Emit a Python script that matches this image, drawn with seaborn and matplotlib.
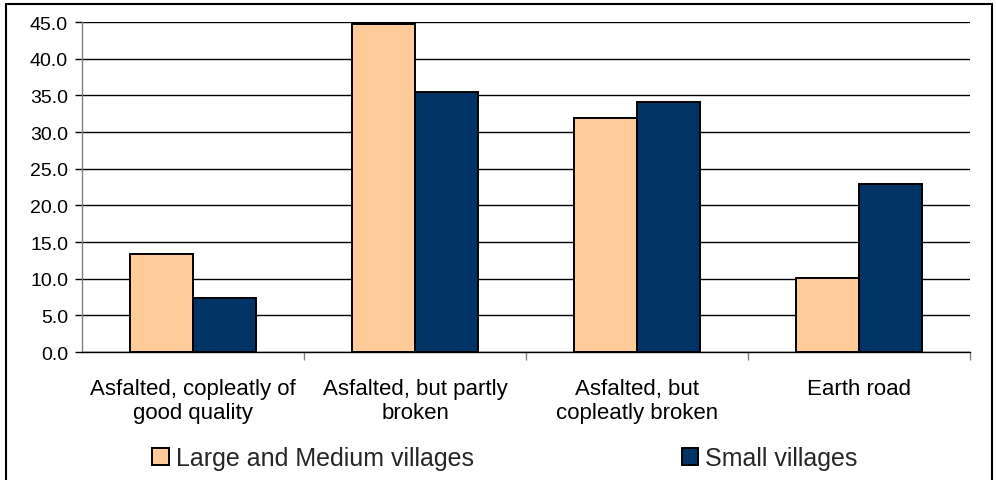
import matplotlib
matplotlib.use("Agg")
import matplotlib.pyplot as plt
from matplotlib.patches import Rectangle
from matplotlib.ticker import FormatStrFormatter, FixedLocator
import seaborn as sns
import pandas as pd

categories = [
    "Asfalted, copleatly of\ngood quality",
    "Asfalted, but partly\nbroken",
    "Asfalted, but\ncopleatly broken",
    "Earth road",
]
series_names = ["Large and Medium villages", "Small villages"]
large_medium = [13.4, 44.7, 31.9, 10.1]
small = [7.4, 35.4, 34.1, 22.9]
colors = ["#FFCC99", "#003366"]

df = pd.DataFrame({
    "category": categories * 2,
    "value": large_medium + small,
    "group": [series_names[0]] * 4 + [series_names[1]] * 4,
})

sns.set_theme(style="white")
plt.rcParams["font.family"] = ["Liberation Sans", "DejaVu Sans"]

fig = plt.figure(figsize=(9.96, 4.81), dpi=100)
ax = fig.add_axes([0.0823, 0.266, 0.8917, 0.686])

sns.barplot(data=df, x="category", y="value", hue="group", order=categories,
            hue_order=series_names, palette=colors, width=0.57, gap=0,
            edgecolor="black", linewidth=1.4, saturation=1, ax=ax,
            errorbar=None)

ax.set_xlim(-0.5, 3.5)
ax.set_ylim(0, 45)
ax.set_yticks(range(0, 46, 5))
ax.yaxis.set_major_formatter(FormatStrFormatter("%.1f"))
ax.grid(axis="y", color="black", linewidth=1.0)
ax.set_axisbelow(True)
ax.set_xlabel("")
ax.set_ylabel("")

for side in ("top", "right"):
    ax.spines[side].set_visible(False)
ax.spines["left"].set_color("#808080")
ax.spines["left"].set_linewidth(1.0)
ax.spines["bottom"].set_color("black")
ax.spines["bottom"].set_linewidth(1.0)

ax.tick_params(axis="y", which="major", left=True, length=5, width=1,
               color="black", labelsize=14, pad=5, labelcolor="black")
ax.tick_params(axis="x", which="major", bottom=False, labelsize=16, pad=13,
               labelcolor="black")
ax.xaxis.set_minor_locator(FixedLocator([0.5, 1.5, 2.5, 3.5]))
ax.tick_params(axis="x", which="minor", bottom=True, length=6, width=1,
               color="#808080")
for lbl in ax.get_xticklabels():
    lbl.set_linespacing(1.15)

handles, labels = ax.get_legend_handles_labels()
ax.get_legend().remove()
fig.legend(handles, labels, loc="center", bbox_to_anchor=(0.507, 0.045),
           ncol=2, frameon=False, fontsize=18, handlelength=0.65,
           handleheight=0.65, handletextpad=0.3, columnspacing=8.3)

# outer chart frame
fig.patches.append(Rectangle((6 / 996, -0.05), 986 / 996, 1 - 5 / 481 + 0.05,
                             transform=fig.transFigure, fill=False,
                             edgecolor="black", linewidth=1.5))

fig.savefig("out.png", dpi=100)
